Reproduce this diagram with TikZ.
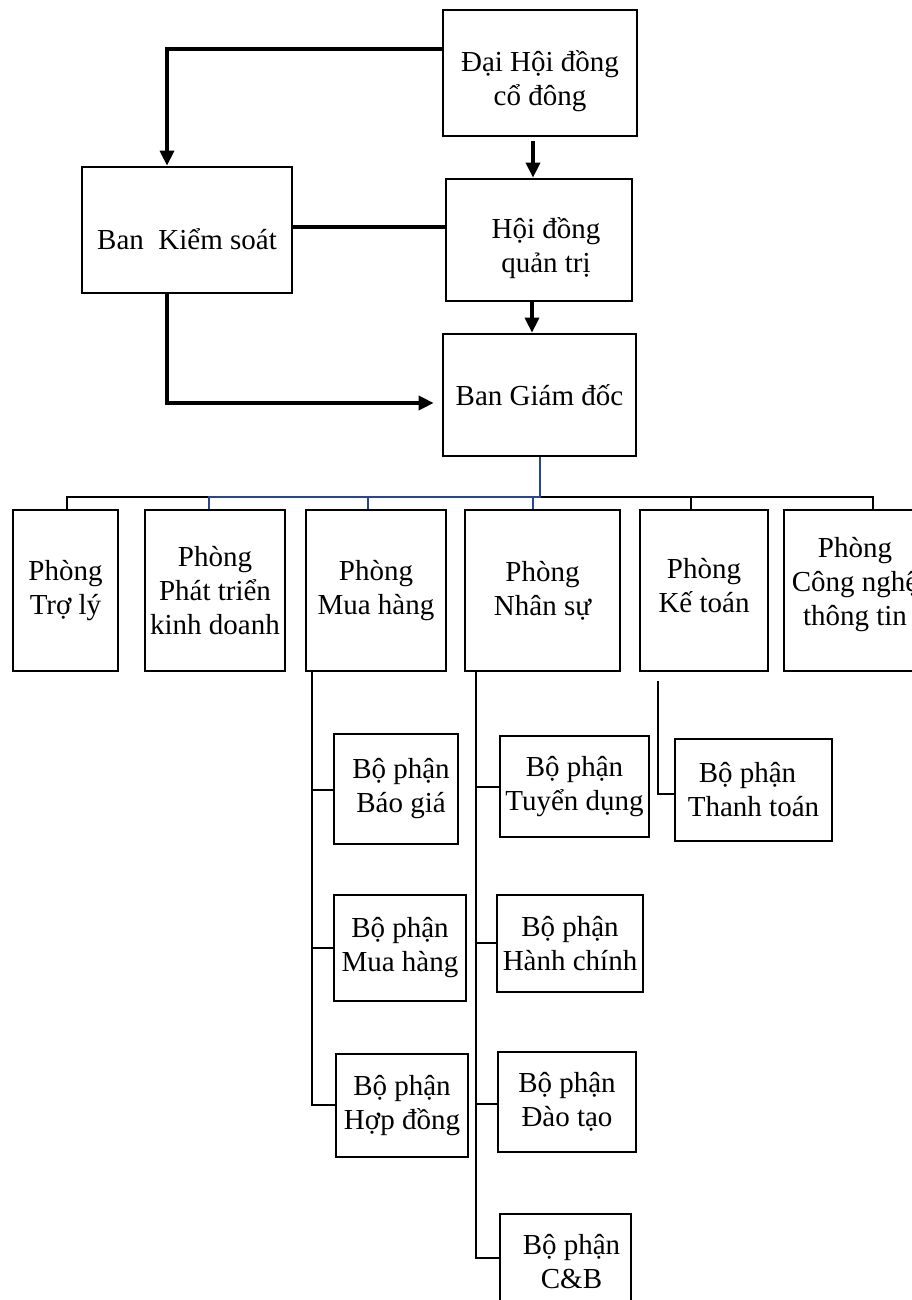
\documentclass[tikz,border=0pt]{standalone}
\usepackage{fontspec}
\setmainfont{Liberation Serif}
\usetikzlibrary{arrows.meta}
\definecolor{navy}{RGB}{40,70,140}
\tikzset{
  box/.style={draw, line width=2.7pt, align=center, inner sep=1pt,
    font=\fontsize{29}{34}\selectfont},
  conn/.style={line width=3.4pt},
  arrowconn/.style={conn, -{Triangle[length=15pt,width=14pt]}},
  thinconn/.style={line width=1.3pt},
  blueconn/.style={line width=1.6pt, draw=navy},
}
\begin{document}
\begin{tikzpicture}[x=1pt,y=-1pt]
\fill[white] (0,0) rectangle (912,1300);
\useasboundingbox (0,0) rectangle (912,1300);

% top level
\node[box, minimum width=194pt, minimum height=126pt] (dhd) at (540,73) {\rule{0pt}{38pt}Đại Hội đồng\\cổ đông};
\node[box, minimum width=186pt, minimum height=122pt] (hdqt) at (539,240) {\rule{0pt}{38pt}\hspace*{14pt}Hội đồng\\\hspace*{14pt}quản trị};
\node[box, minimum width=210pt, minimum height=126pt] (bks) at (187,230) {\rule{0pt}{40pt}Ban\ \ Kiểm soát};
\node[box, minimum width=193pt, minimum height=122pt] (bgd) at (539.5,395) {Ban Giám đốc};

% departments
\node[box, minimum width=105pt, minimum height=161pt] (troly) at (65.5,590.5) {Phòng\\Trợ lý};
\node[box, minimum width=140pt, minimum height=161pt] (ptkd) at (215,590.5) {Phòng\\Phát triển\\kinh doanh};
\node[box, minimum width=140pt, minimum height=161pt] (muahang) at (376,590.5) {Phòng\\Mua hàng};
\node[box, minimum width=155pt, minimum height=161pt] (nhansu) at (542.5,590.5) {Phòng\\Nhân sự};
\node[box, minimum width=128pt, minimum height=161pt] (ketoan) at (704,590.5) {Phòng\\Kế toán\rule[-11pt]{0pt}{0pt}};
\node[box, minimum width=142pt, minimum height=161pt] (cntt) at (855,590.5) {Phòng\\Công nghệ\\thông tin\rule[-19pt]{0pt}{0pt}};

% sections
\node[box, minimum width=124pt, minimum height=110pt] (baogia) at (396,789) {\hspace*{10pt}Bộ phận\\\hspace*{10pt}Báo giá};
\node[box, minimum width=132pt, minimum height=106pt] (bpmua) at (400,948) {Bộ phận\\Mua hàng};
\node[box, minimum width=132pt, minimum height=103pt] (hopdong) at (402,1105.5) {Bộ phận\\Hợp đồng};
\node[box, minimum width=149pt, minimum height=101pt] (tuyendung) at (574.5,786.5) {Bộ phận\\Tuyển dụng};
\node[box, minimum width=146pt, minimum height=97pt] (hanhchinh) at (570,943.5) {Bộ phận\\Hành chính};
\node[box, minimum width=138pt, minimum height=100pt] (daotao) at (567,1102) {Bộ phận\\Đào tạo};
\node[box, minimum width=131pt, minimum height=96pt] (cb) at (565.5,1262) {\hspace*{12pt}Bộ phận\\\hspace*{12pt}C\&B};
\node[box, minimum width=157pt, minimum height=102pt] (thanhtoan) at (753.5,790) {Bộ phận\hspace*{12pt}\\Thanh toán};

% top connectors
\draw[arrowconn] (dhd.west |- 0,49) -- (167,49) -- (bks.north -| 167,0);
\draw[arrowconn] ([yshift=-4pt]dhd.south -| 533,0) -- (hdqt.north -| 533,0);
\draw[conn] (bks.east |- 0,227) -- (hdqt.west |- 0,227);
\draw[arrowconn] (hdqt.south -| 532,0) -- (bgd.north -| 532,0);
\draw[arrowconn, shorten >=8pt] (bks.south -| 167,0) -- (167,403) -- (bgd.west |- 0,403);

% bus
\coordinate (bus) at (540,497);
\draw[thinconn] (troly.north -| 67,0) -- (67,497) -- (873,497) -- (cntt.north -| 873,0);
\draw[thinconn] (691,497) -- (ketoan.north -| 691,0);
\draw[blueconn] (bgd.south -| 540,0) -- (bus) -- (209,497) -- (ptkd.north -| 209,0);
\draw[blueconn] (368,497) -- (muahang.north -| 368,0);
\draw[blueconn] (533,497) -- (nhansu.north -| 533,0);

% sub connectors
\draw[thinconn] (muahang.south -| 312,0) -- (312,1105) -- (hopdong.west |- 0,1105);
\draw[thinconn] (312,790) -- (baogia.west |- 0,790);
\draw[thinconn] (312,948) -- (bpmua.west |- 0,948);

\draw[thinconn] (nhansu.south -| 476,0) -- (476,1258) -- (cb.west |- 0,1258);
\draw[thinconn] (476,787) -- (tuyendung.west |- 0,787);
\draw[thinconn] (476,943) -- (hanhchinh.west |- 0,943);
\draw[thinconn] (476,1104) -- (daotao.west |- 0,1104);

\coordinate (ktstart) at (658,681);
\draw[thinconn] (ktstart) -- (658,794) -- (thanhtoan.west |- 0,794);
\end{tikzpicture}
\end{document}
